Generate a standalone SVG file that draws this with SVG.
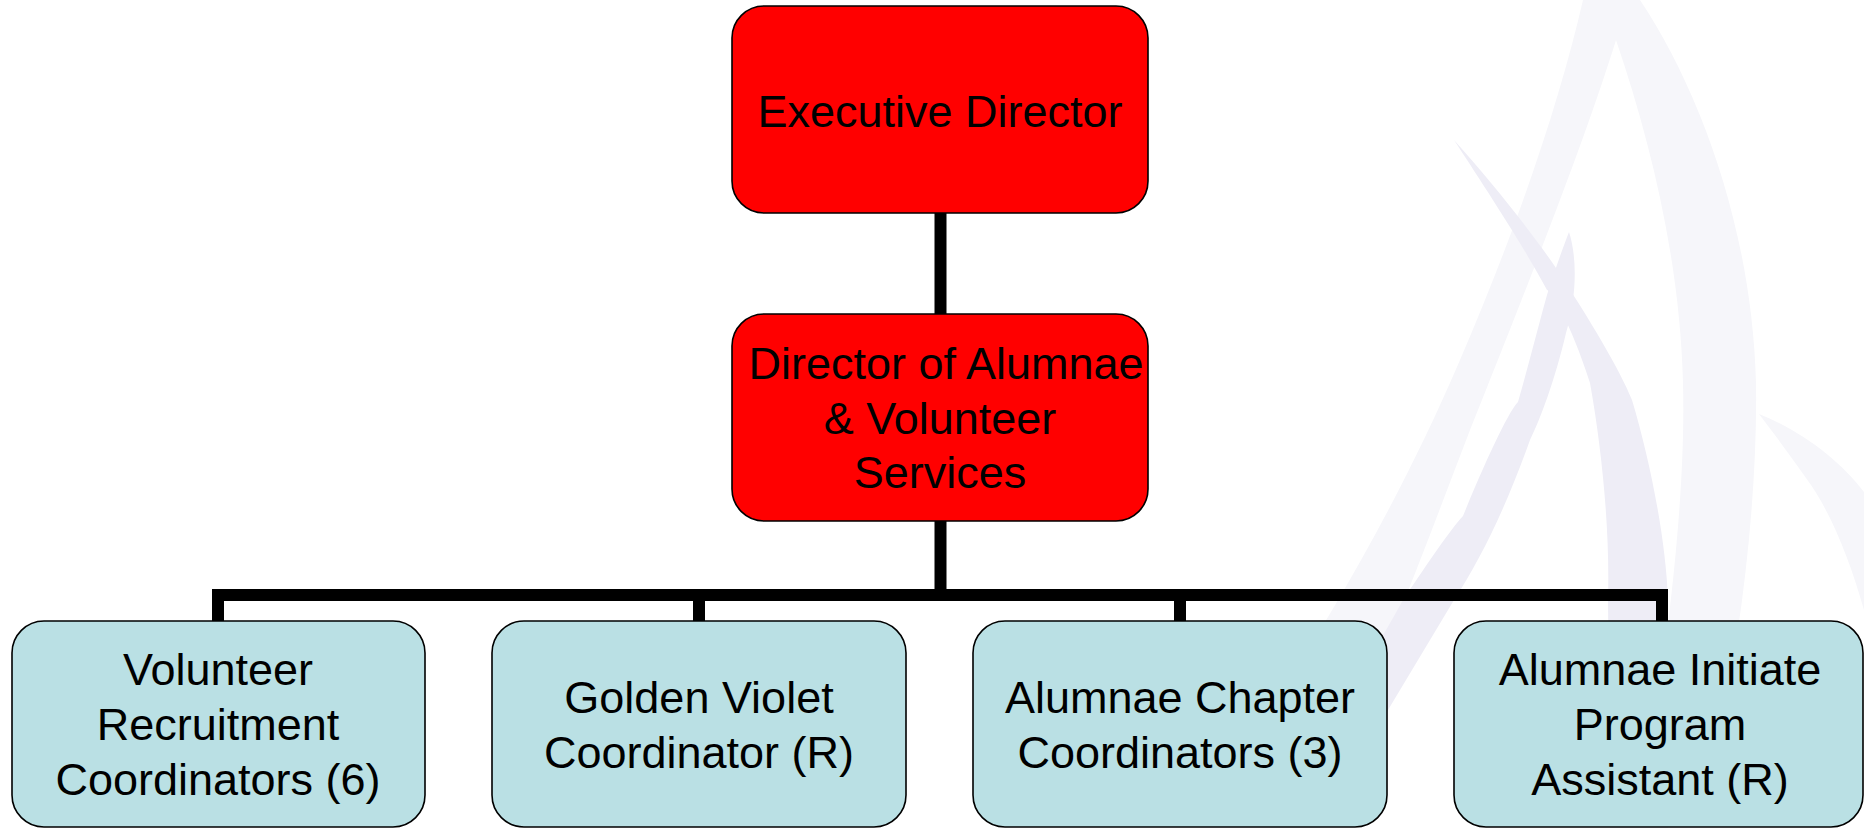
<svg xmlns="http://www.w3.org/2000/svg" width="1864" height="828" viewBox="0 0 1864 828">
<style>
.n rect{stroke:#000;stroke-width:1.6}
.top rect{fill:#ff0000}
.sub rect{fill:#bae0e4}
text{font-family:"Liberation Sans",Arial,sans-serif;font-size:45px;fill:#000;text-anchor:middle}
.c{fill:none;stroke:#000;stroke-width:12;stroke-linejoin:miter}
.w1{fill:#f6f6fa}
.w2{fill:#eeedf6}
</style>
<rect width="1864" height="828" fill="#fff"/>
<g id="watermark">
<path class="w1" d="M1583,0 C1560,100 1520,220 1460,360 C1400,500 1330,620 1250,740 L1200,828 L1300,828 C1370,700 1420,560 1470,430 C1530,280 1585,140 1616,40 C1650,140 1680,260 1683,383 C1686,500 1668,640 1640,828 L1700,828 C1735,680 1758,520 1756,383 C1752,230 1700,90 1640,0 Z"/>
<path class="w1" d="M1759,414 C1800,430 1840,460 1864,492 L1864,610 C1850,560 1830,510 1806,478 C1790,455 1775,435 1759,414 Z"/>
<path class="w2" d="M1454,140 C1490,180 1530,230 1556,268 C1590,320 1620,370 1632,400 C1650,460 1666,540 1668,600 L1668,828 L1610,828 L1608,600 C1610,530 1602,450 1590,383 C1570,320 1550,290 1547,290 C1520,240 1480,180 1454,140 Z"/>
<path class="w2" d="M1569,232 C1578,260 1576,300 1566,333 C1555,380 1540,420 1530,440 C1505,510 1480,560 1454,600 L1370,740 L1320,828 L1270,828 C1320,740 1370,660 1403,600 C1430,560 1450,530 1463,516 C1490,450 1510,410 1518,402 C1530,360 1540,320 1547,295 C1555,270 1562,250 1569,232 Z"/>
</g>
<g id="connectors">
<path class="c" d="M940.5,213 V314"/>
<path class="c" d="M940.5,521 V595"/>
<path class="c" d="M218,621 V595 H1662 V621"/>
<path class="c" d="M699,595 V621"/>
<path class="c" d="M1180,595 V621"/>
</g>
<g id="executive-director" class="n top">
<rect x="732" y="6" width="416" height="207" rx="32" ry="32"/>
<text x="940" y="127">Executive Director</text>
</g>
<g id="director-alumnae" class="n top">
<rect x="732" y="314" width="416" height="207" rx="32" ry="32"/>
<text x="946" y="379">Director of Alumnae</text>
<text x="940" y="434">&amp; Volunteer</text>
<text x="940" y="488">Services</text>
</g>
<g id="volunteer-recruitment" class="n sub">
<rect x="12" y="621" width="413" height="206" rx="32" ry="32"/>
<text x="218" y="685">Volunteer</text>
<text x="218" y="740">Recruitment</text>
<text x="218" y="795">Coordinators (6)</text>
</g>
<g id="golden-violet" class="n sub">
<rect x="492" y="621" width="414" height="206" rx="32" ry="32"/>
<text x="699" y="713">Golden Violet</text>
<text x="699" y="768">Coordinator (R)</text>
</g>
<g id="alumnae-chapter" class="n sub">
<rect x="973" y="621" width="414" height="206" rx="32" ry="32"/>
<text x="1180" y="713">Alumnae Chapter</text>
<text x="1180" y="768">Coordinators (3)</text>
</g>
<g id="alumnae-initiate" class="n sub">
<rect x="1454" y="621" width="409" height="206" rx="32" ry="32"/>
<text x="1660" y="685">Alumnae Initiate</text>
<text x="1660" y="740">Program</text>
<text x="1660" y="795">Assistant (R)</text>
</g>
</svg>
